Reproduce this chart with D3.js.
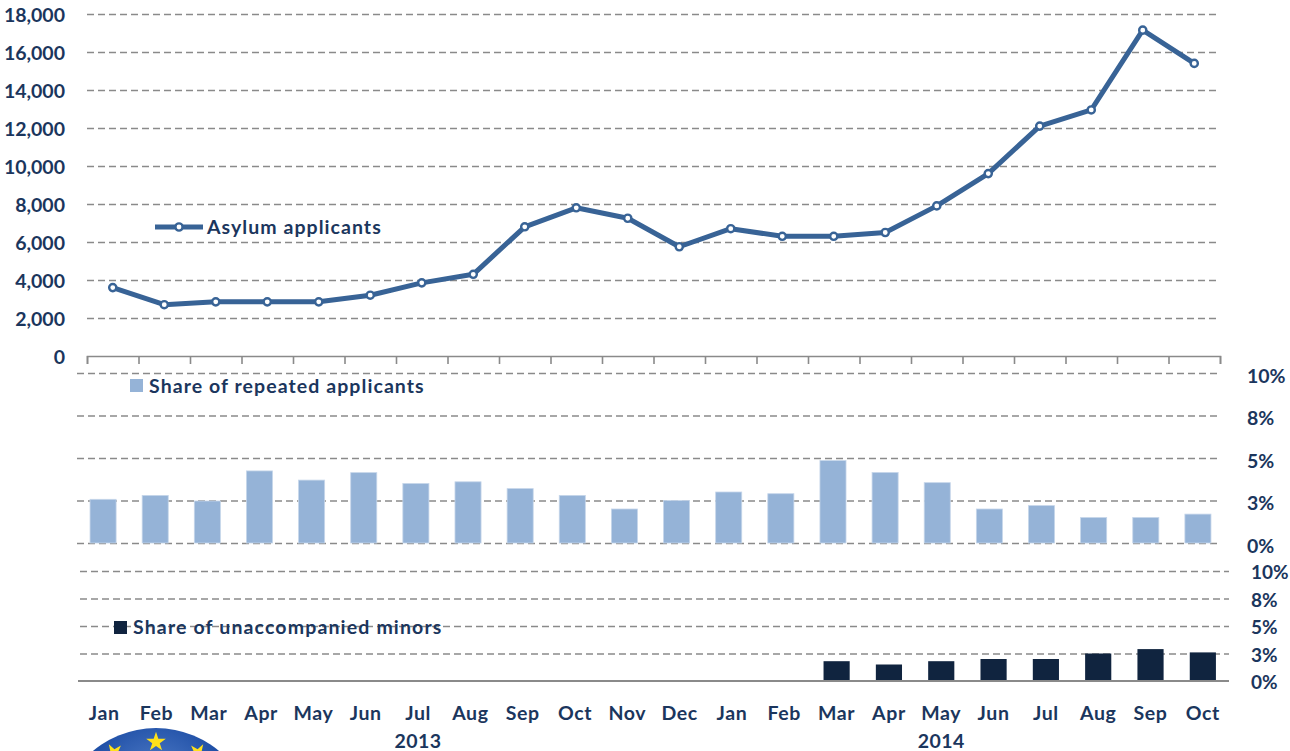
<!DOCTYPE html>
<html>
<head>
<meta charset="utf-8">
<script src="https://cdn.jsdelivr.net/npm/d3@7"></script>
<style>
    html, body { margin: 0; padding: 0; background: #fff; }
    svg text { font-family: Lato, "Open Sans", sans-serif; font-weight: bold; fill: #1B365D; }
</style>
</head>
<body>
<svg id="chartSVG" width="1290" height="751"></svg>
<script>
// ---- data ----
const categories = [
    "Jan 2013", "Feb 2013", "Mar 2013", "Apr 2013", "May 2013", "Jun 2013",
    "Jul 2013", "Aug 2013", "Sep 2013", "Oct 2013", "Nov 2013", "Dec 2013",
    "Jan 2014", "Feb 2014", "Mar 2014", "Apr 2014", "May 2014", "Jun 2014",
    "Jul 2014", "Aug 2014", "Sep 2014", "Oct 2014"
];
const yearLabels = ["2013", "2014"];
const yearAnchors = ["Jul 2013", "May 2014"];

const asylumApplicants = [3600, 2700, 2850, 2850, 2850, 3200, 3850, 4300, 6800, 7800, 7250, 5750,
    6700, 6300, 6300, 6500, 7900, 9600, 12100, 12950, 17150, 15400];
// percent
const repeatedShare = [2.57, 2.8, 2.47, 4.24, 3.7, 4.14, 3.5, 3.6, 3.2, 2.8, 2.0, 2.5,
    3.0, 2.9, 4.85, 4.15, 3.55, 2.0, 2.2, 1.5, 1.5, 1.7];
const minorsShare = [null, null, null, null, null, null, null, null, null, null, null, null,
    null, null, 1.8, 1.5, 1.8, 2.0, 2.0, 2.5, 2.9, 2.6];

const countTicks = d3.range(0, 18001, 2000);
const pctTicks = [0, 2.5, 5, 7.5, 10];

const kLineColor = "#386396";
const kLightBar = "#95B3D7";
const kDarkBar = "#10243F";
const kGrid = "#8a8a8a";
const kFontSize = 19.5;

const paper = d3.select("#chartSVG");

// ---- scales ----
const xTop = d3.scaleBand().domain(categories).range([87, 1220]);
const yTop = d3.scaleLinear().domain([0, 18000]).range([356, 14]);

const xMid = d3.scaleBand().domain(categories).range([77, 1224]).paddingInner(0.5).paddingOuter(0.25);
const yMid = d3.scaleLinear().domain([0, 10]).range([543, 373]);

const xBot = d3.scaleBand().domain(categories).range([78, 1229]).paddingInner(0.5).paddingOuter(0.25);
const yBot = d3.scaleLinear().domain([0, 10]).range([681, 571]);

const pctFormat = d => d3.format(".0f")(d) + "%";

function dashedGrid(g, x1, x2) {
    g.select(".domain").remove();
    g.selectAll(".tick text").remove();
    g.selectAll(".tick line")
        .attr("x1", x1).attr("x2", x2)
        .attr("stroke", kGrid)
        .attr("stroke-width", 1.6)
        .attr("stroke-dasharray", "7,4");
}

// ---- top panel: asylum applicants ----
paper.append("g")
    .attr("class", "topGrid")
    .call(d3.axisLeft(yTop).tickValues(countTicks.filter(v => v > 0)))
    .call(g => dashedGrid(g, 87, 1219));

paper.append("g")
    .attr("class", "topYAxis")
    .attr("transform", "translate(65,0)")
    .call(d3.axisLeft(yTop).tickValues(countTicks).tickFormat(d3.format(",")).tickSize(0).tickPadding(0))
    .call(g => g.select(".domain").remove())
    .call(g => g.selectAll("text").attr("font-size", kFontSize).attr("dy", "0.36em"));

const boundaryScale = d3.scaleLinear().domain([0, categories.length]).range(xTop.range());
paper.append("g")
    .attr("class", "topXAxis")
    .attr("transform", `translate(0,${yTop(0)})`)
    .call(d3.axisBottom(boundaryScale).ticks(categories.length).tickSize(8).tickSizeOuter(8).tickFormat(""))
    .call(g => g.selectAll("path, line").attr("stroke", kGrid).attr("stroke-width", 1.6));

const line = d3.line()
    .x((d, i) => xTop(categories[i]) + xTop.bandwidth() / 2)
    .y(d => yTop(d));

paper.append("path")
    .datum(asylumApplicants)
    .attr("class", "asylumLine")
    .attr("d", line)
    .attr("fill", "none")
    .attr("stroke", kLineColor)
    .attr("stroke-width", 5)
    .attr("stroke-linejoin", "round");

paper.selectAll(".asylumPoint")
    .data(asylumApplicants)
    .join("circle")
    .attr("class", "asylumPoint")
    .attr("cx", (d, i) => xTop(categories[i]) + xTop.bandwidth() / 2)
    .attr("cy", d => yTop(d))
    .attr("r", 3.6)
    .attr("fill", "#fff")
    .attr("stroke", kLineColor)
    .attr("stroke-width", 2.4);

// legend
const lineLegend = paper.append("g").attr("class", "lineLegend");
lineLegend.append("line")
    .attr("x1", 155).attr("x2", 203).attr("y1", 227).attr("y2", 227)
    .attr("stroke", kLineColor).attr("stroke-width", 5);
lineLegend.append("circle")
    .attr("cx", 179).attr("cy", 227).attr("r", 3.6)
    .attr("fill", "#fff").attr("stroke", kLineColor).attr("stroke-width", 2.4);
lineLegend.append("text")
    .attr("x", 207).attr("y", 234)
    .attr("font-size", kFontSize)
    .attr("letter-spacing", 1.05)
    .text("Asylum applicants");

// ---- middle panel: repeated applicants ----
paper.append("g")
    .attr("class", "midGrid")
    .call(d3.axisLeft(yMid).tickValues(pctTicks))
    .call(g => dashedGrid(g, 77, 1220));

paper.selectAll(".repeatedBar")
    .data(repeatedShare)
    .join("rect")
    .attr("class", "repeatedBar")
    .attr("x", (d, i) => xMid(categories[i]))
    .attr("y", d => yMid(d))
    .attr("width", xMid.bandwidth())
    .attr("height", d => yMid(0) - yMid(d))
    .attr("fill", kLightBar)
    .attr("stroke", "#c6d6ea")
    .attr("stroke-width", 0.8);

paper.append("g")
    .attr("class", "midYAxis")
    .attr("transform", "translate(1247,2)")
    .call(d3.axisRight(yMid).tickValues(pctTicks).tickFormat(pctFormat).tickSize(0).tickPadding(0))
    .call(g => g.select(".domain").remove())
    .call(g => g.selectAll("text").attr("font-size", kFontSize).attr("dy", "0.36em"));

const midLegend = paper.append("g").attr("class", "midLegend");
midLegend.append("rect")
    .attr("x", 130).attr("y", 379).attr("width", 13).attr("height", 13)
    .attr("fill", kLightBar);
midLegend.append("text")
    .attr("x", 149).attr("y", 393)
    .attr("font-size", kFontSize)
    .attr("letter-spacing", 1.07)
    .text("Share of repeated applicants");

// ---- bottom panel: unaccompanied minors ----
paper.append("g")
    .attr("class", "botGrid")
    .call(d3.axisLeft(yBot).tickValues(pctTicks.filter(v => v > 0)))
    .call(g => dashedGrid(g, 80, 1229));

const botLegend = paper.append("g").attr("class", "botLegend");
botLegend.append("rect")
    .attr("x", 114).attr("y", 621).attr("width", 13).attr("height", 13)
    .attr("fill", kDarkBar);
botLegend.append("text")
    .attr("x", 133).attr("y", 634)
    .attr("font-size", kFontSize)
    .attr("letter-spacing", 1.15)
    .text("Share of unaccompanied minors");

paper.selectAll(".minorsBar")
    .data(minorsShare.map((v, i) => ({v, c: categories[i]})).filter(d => d.v !== null))
    .join("rect")
    .attr("class", "minorsBar")
    .attr("x", d => xBot(d.c))
    .attr("y", d => yBot(d.v))
    .attr("width", xBot.bandwidth())
    .attr("height", d => yBot(0) - yBot(d.v))
    .attr("fill", kDarkBar);

paper.append("line")
    .attr("class", "botAxisLine")
    .attr("x1", 78).attr("x2", 1229)
    .attr("y1", yBot(0)).attr("y2", yBot(0))
    .attr("stroke", kGrid).attr("stroke-width", 1.8);

paper.append("g")
    .attr("class", "botYAxis")
    .attr("transform", "translate(1251,1)")
    .call(d3.axisRight(yBot).tickValues(pctTicks).tickFormat(pctFormat).tickSize(0).tickPadding(0))
    .call(g => g.select(".domain").remove())
    .call(g => g.selectAll("text").attr("font-size", 19).attr("dy", "0.36em"));

// month + year labels
const xLab = xBot.copy().paddingInner(0).paddingOuter(0);
paper.append("g")
    .attr("class", "monthAxis")
    .attr("transform", "translate(0,713)")
    .call(d3.axisBottom(xLab).tickSize(0).tickPadding(0).tickFormat(c => c.split(" ")[0]))
    .call(g => g.select(".domain").remove())
    .call(g => g.selectAll("text")
        .attr("font-size", kFontSize)
        .attr("letter-spacing", 0.6)
        .attr("dy", "0.36em"));

paper.selectAll(".yearLabel")
    .data(yearLabels)
    .join("text")
    .attr("class", "yearLabel")
    .attr("x", (d, i) => xLab(yearAnchors[i]) + xLab.bandwidth() / 2)
    .attr("y", 741)
    .attr("dy", "0.36em")
    .attr("text-anchor", "middle")
    .attr("font-size", kFontSize)
    .attr("letter-spacing", 0.5)
    .text(d => d);

// ---- logo (partly off the bottom edge) ----
const defs = paper.append("defs");
const grad = defs.append("radialGradient")
    .attr("id", "logoGrad")
    .attr("cx", "50%").attr("cy", "30%").attr("r", "60%");
grad.append("stop").attr("offset", "0%").attr("stop-color", "#5a86cf");
grad.append("stop").attr("offset", "60%").attr("stop-color", "#1f4fa6");
grad.append("stop").attr("offset", "100%").attr("stop-color", "#16397c");

const logo = paper.append("g").attr("class", "logo").attr("transform", "translate(156,826)");
logo.append("circle").attr("r", 98).attr("fill", "url(#logoGrad)");

const star = d3.symbol().type(d3.symbolStar).size(120);
logo.selectAll(".logoStar")
    .data(d3.range(12))
    .join("path")
    .attr("class", "logoStar")
    .attr("d", star)
    .attr("fill", "#ffe11a")
    .attr("transform", i => {
        const a = i * Math.PI / 6;
        return `translate(${84 * Math.sin(a)},${-84 * Math.cos(a)}) rotate(${i * 30})`;
    });
</script>
</body>
</html>
